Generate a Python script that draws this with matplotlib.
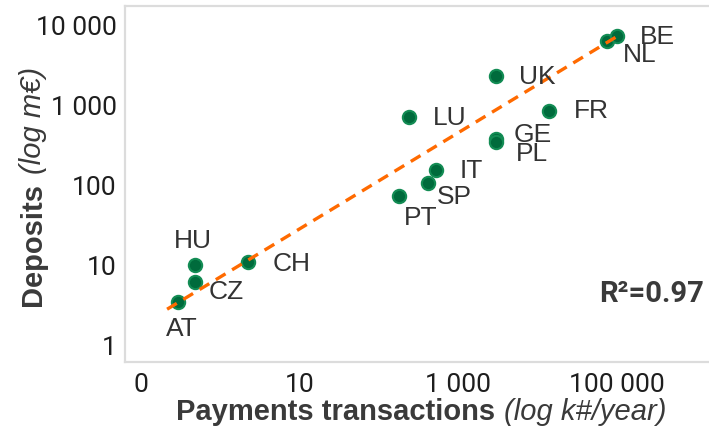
import numpy as np
import matplotlib
matplotlib.use("Agg")
import matplotlib.pyplot as plt

# ---- data ----
countries = ["AT", "HU", "CZ", "CH", "PT", "SP", "IT", "LU", "UK", "GE", "PL", "FR", "NL", "BE"]
payments = [0.29, 0.48, 0.48, 2.26, 179, 417, 525, 240, 2950, 2950, 2950, 14100, 74000, 100000]
deposits = [3.5, 10.3, 6.3, 11.0, 75, 109, 158, 727, 2300, 386, 345, 841, 6300, 7300]
x_ticks = [0.1, 10, 1000, 100000]
x_ticklabels = ["0", "10", "1 000", "100 000"]
y_ticks = [1, 10, 100, 1000, 10000]
y_ticklabels = ["1", "10", "100", "1 000", "10 000"]
r2_text = "R²=0.97"
# fitted trend line (log10 space)
trend_slope = 0.60
trend_intercept = 0.86
trend_x_range = [0.214, 107000]

# label offsets in pixels (dx, dy up-positive), left aligned, centred vertically
label_offsets = {
    "AT": (-12, -27), "HU": (-21, 24), "CZ": (14, -10), "CH": (24, -2),
    "PT": (5, -22), "SP": (9, -14), "IT": (24, -1), "LU": (24, -1),
    "UK": (23, -1), "GE": (18, 4), "PL": (20, -12), "FR": (24, 0),
    "NL": (16, -14), "BE": (23, -1),
}

DPI = 100
W, H = 709, 429
fig = plt.figure(figsize=(W / DPI, H / DPI), dpi=DPI)
ax = fig.add_axes([125 / W, 1 - 362 / H, 1 - 125 / W, (362 - 6) / H])
ax.set_xscale("log")
ax.set_yscale("log")
ax.set_xlim(10 ** -1.2, 10 ** 6.16)
ax.set_ylim(10 ** -0.2, 10 ** 4.24)

# trend line
xx = np.linspace(np.log10(trend_x_range[0]), np.log10(trend_x_range[1]), 50)
ax.plot(10 ** xx, 10 ** (trend_slope * xx + trend_intercept), ls=(0, (3.4, 2.3)),
        color="#FF6A00", lw=2.4, zorder=4)

ax.scatter(payments, deposits, s=92, facecolor="#006B3C", edgecolor="#138C54",
           linewidth=1.5, zorder=3)

pt2px = 72 / DPI
for c, x, y in zip(countries, payments, deposits):
    dx, dy = label_offsets[c]
    ax.annotate(c, (x, y), xytext=(dx * pt2px, dy * pt2px), textcoords="offset points",
                ha="left", va="center", fontsize=19, color="#333333",
                family="Liberation Sans", zorder=5)

ax.set_xticks(x_ticks)
ax.set_xticklabels(x_ticklabels)
ax.set_yticks(y_ticks)
ax.set_yticklabels(y_ticklabels)
ax.minorticks_off()
ax.tick_params(axis="y", length=0, pad=6, labelsize=19, labelcolor="#1e1e1e")
ax.tick_params(axis="x", length=0, pad=8, labelsize=19, labelcolor="#1e1e1e")
for lab in ax.get_xticklabels() + ax.get_yticklabels():
    lab.set_family(["Roboto", "DejaVu Sans"])

for s in ["left", "top", "bottom"]:
    ax.spines[s].set_color("#dcdcdc")
    ax.spines[s].set_linewidth(1.6)
ax.spines["right"].set_visible(False)

lab_col = "#3a3a3a"
# x axis title: bold part + italic part
fig.text(495 / W, 1 - 412 / H, "Payments transactions", ha="right", va="center",
         fontsize=21, fontweight="bold", color=lab_col, family="Liberation Sans")
fig.text(504 / W, 1 - 412 / H, "(log k#/year)", ha="left", va="center",
         fontsize=21, fontstyle="italic", color=lab_col, family="Liberation Sans")
# y axis title
fig.text(33 / W, 1 - 306 / H, "Deposits", ha="center", va="bottom", rotation=90,
         fontsize=21, fontweight="bold", color=lab_col, family="Liberation Sans")
fig.text(33 / W, 1 - 174 / H, "(log m€)", ha="center", va="bottom", rotation=90,
         fontsize=21, fontstyle="italic", color=lab_col, family="Liberation Sans")

ax.text(0.992, 0.19, r2_text, transform=ax.transAxes, ha="right", va="center",
        fontsize=21, fontweight="bold", color="#3a3a3a", family="Roboto")

fig.savefig("out.png", dpi=DPI)
